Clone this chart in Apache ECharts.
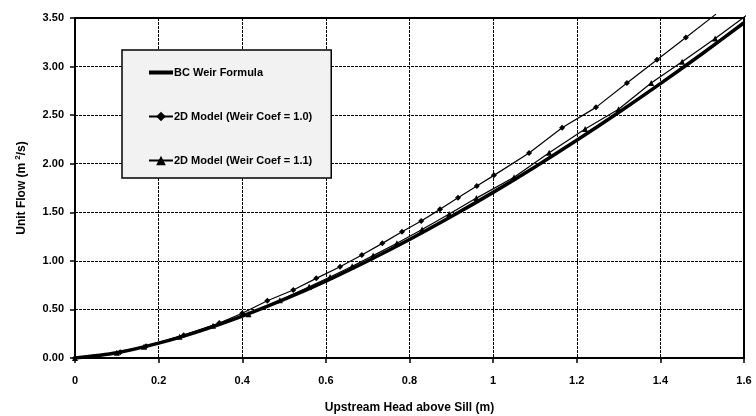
<!DOCTYPE html>
<html>
<head>
<meta charset="utf-8">
<script src="https://cdn.jsdelivr.net/npm/echarts@6/dist/echarts.min.js"></script>
<style>
  html, body { margin: 0; padding: 0; background: #fff; }
  #chart { width: 756px; height: 416px; }
</style>
</head>
<body>
<div id="chart"></div>
<script>
// BC Weir Formula (smooth, no markers)
var bcHead = [0, 0.1, 0.2, 0.3, 0.4, 0.5, 0.6, 0.7, 0.8, 0.9, 1.0, 1.1, 1.2, 1.3, 1.4, 1.5, 1.6];
var bcFlow = [0, 0.054, 0.153, 0.28, 0.431, 0.603, 0.792, 0.999, 1.22, 1.456, 1.705, 1.967, 2.241, 2.527, 2.824, 3.132, 3.451];

// 2D Model (Weir Coef = 1.0)
var m10Head = [0, 0.108, 0.17, 0.26, 0.345, 0.40, 0.46, 0.522, 0.577, 0.634, 0.686, 0.735, 0.782, 0.828, 0.873, 0.916, 0.961, 1.002, 1.086, 1.165, 1.246, 1.320, 1.392, 1.461, 1.533];
var m10Flow = [0, 0.06, 0.12, 0.235, 0.36, 0.46, 0.59, 0.70, 0.82, 0.94, 1.06, 1.18, 1.30, 1.41, 1.53, 1.65, 1.77, 1.88, 2.11, 2.37, 2.58, 2.83, 3.07, 3.30, 3.54];

// 2D Model (Weir Coef = 1.1)
var m11Head = [0, 0.10, 0.165, 0.25, 0.33, 0.415, 0.49, 0.56, 0.61, 0.663, 0.713, 0.77, 0.83, 0.895, 0.96, 1.05, 1.134, 1.22, 1.30, 1.378, 1.452, 1.531, 1.607];
var m11Flow = [0, 0.055, 0.117, 0.219, 0.332, 0.45, 0.595, 0.733, 0.834, 0.945, 1.054, 1.182, 1.323, 1.482, 1.646, 1.86, 2.113, 2.358, 2.56, 2.831, 3.05, 3.29, 3.53];

var seriesNames = ['BC Weir Formula', '2D Model (Weir Coef = 1.0)', '2D Model (Weir Coef = 1.1)'];

function pairs(xs, ys, lastNoSymbol) {
	var out = [];
	for (var i = 0; i < xs.length; i++) {
		if (lastNoSymbol && i === xs.length - 1) {
			out.push({ value: [xs[i], ys[i]], symbol: 'none' });
		} else {
			out.push([xs[i], ys[i]]);
		}
	}
	return out;
}

var font = 'Liberation Sans, Arial, sans-serif';
var chart = echarts.init(document.getElementById('chart'));

chart.setOption({
	animation: false,
	backgroundColor: '#fff',
	grid: {
		left: 75, right: 12, top: 18, bottom: 58,
		outerBoundsMode: 'none',
		show: true, borderColor: '#000', borderWidth: 2
	},
	legend: {
		orient: 'vertical',
		left: 122, top: 50,
		backgroundColor: '#f2f2f2',
		borderColor: '#000',
		borderWidth: 1.5,
		borderRadius: 0,
		padding: [17, 19, 12, 26],
		itemGap: 33,
		itemWidth: 24,
		itemHeight: 12,
		symbolKeepAspect: true,
		textStyle: { fontFamily: font, fontWeight: 'bold', fontSize: 11, color: '#000', padding: [0, 0, 0, -4] },
		data: [
			{ name: seriesNames[0], icon: 'path://M0,0 L24,0 L24,4 L0,4 Z' },
			{ name: seriesNames[1] },
			{ name: seriesNames[2] }
		]
	},
	xAxis: {
		type: 'value',
		min: 0, max: 1.6, interval: 0.2,
		name: 'Upstream Head above Sill (m)',
		nameLocation: 'middle',
		nameGap: 44,
		nameTextStyle: { fontFamily: font, fontWeight: 'bold', fontSize: 12, color: '#000' },
		axisLine: { lineStyle: { color: '#000', width: 2 } },
		axisTick: { show: true, length: 5, inside: false, lineStyle: { color: '#000', width: 1.5 } },
		axisLabel: { fontFamily: font, fontWeight: 'bold', fontSize: 11, color: '#000', margin: 17 },
		splitLine: { show: true, lineStyle: { color: '#000', type: [3, 1], width: 1 } }
	},
	yAxis: {
		type: 'value',
		min: 0, max: 3.5, interval: 0.5,
		name: '{a|Unit Flow (m}{s|2}{a|/s)}',
		nameLocation: 'middle',
		nameGap: 45,
		nameTextStyle: {
			fontFamily: font, fontWeight: 'bold', fontSize: 12, color: '#000',
			rich: {
				a: { fontFamily: font, fontWeight: 'bold', fontSize: 12, color: '#000', lineHeight: 16 },
				s: { fontFamily: font, fontWeight: 'bold', fontSize: 8, color: '#000', verticalAlign: 'top', lineHeight: 16, padding: [0, 0, 0, 3] }
			}
		},
		axisLine: { show: true, lineStyle: { color: '#000', width: 2 } },
		axisTick: { show: true, length: 5, inside: false, lineStyle: { color: '#000', width: 1.5 } },
		axisLabel: {
			fontFamily: font, fontWeight: 'bold', fontSize: 11, color: '#000', margin: 11,
			formatter: function (v) { return v.toFixed(2); }
		},
		splitLine: { show: true, lineStyle: { color: '#000', type: [3, 1], width: 1 } }
	},
	series: [{
		name: seriesNames[0],
		type: 'line',
		data: pairs(bcHead, bcFlow, false),
		smooth: 0.3,
		symbol: 'none',
		lineStyle: { color: '#000', width: 3.5 },
		itemStyle: { color: '#000' },
		z: 3
	}, {
		name: seriesNames[1],
		type: 'line',
		data: pairs(m10Head, m10Flow, true),
		symbol: 'diamond',
		symbolSize: 6,
		clip: false,
		lineStyle: { color: '#000', width: 1.2 },
		itemStyle: { color: '#000' },
		z: 4
	}, {
		name: seriesNames[2],
		type: 'line',
		data: pairs(m11Head, m11Flow, true),
		symbol: 'triangle',
		symbolSize: 6,
		clip: false,
		lineStyle: { color: '#000', width: 1.2 },
		itemStyle: { color: '#000' },
		z: 4
	}]
});
</script>
</body>
</html>
